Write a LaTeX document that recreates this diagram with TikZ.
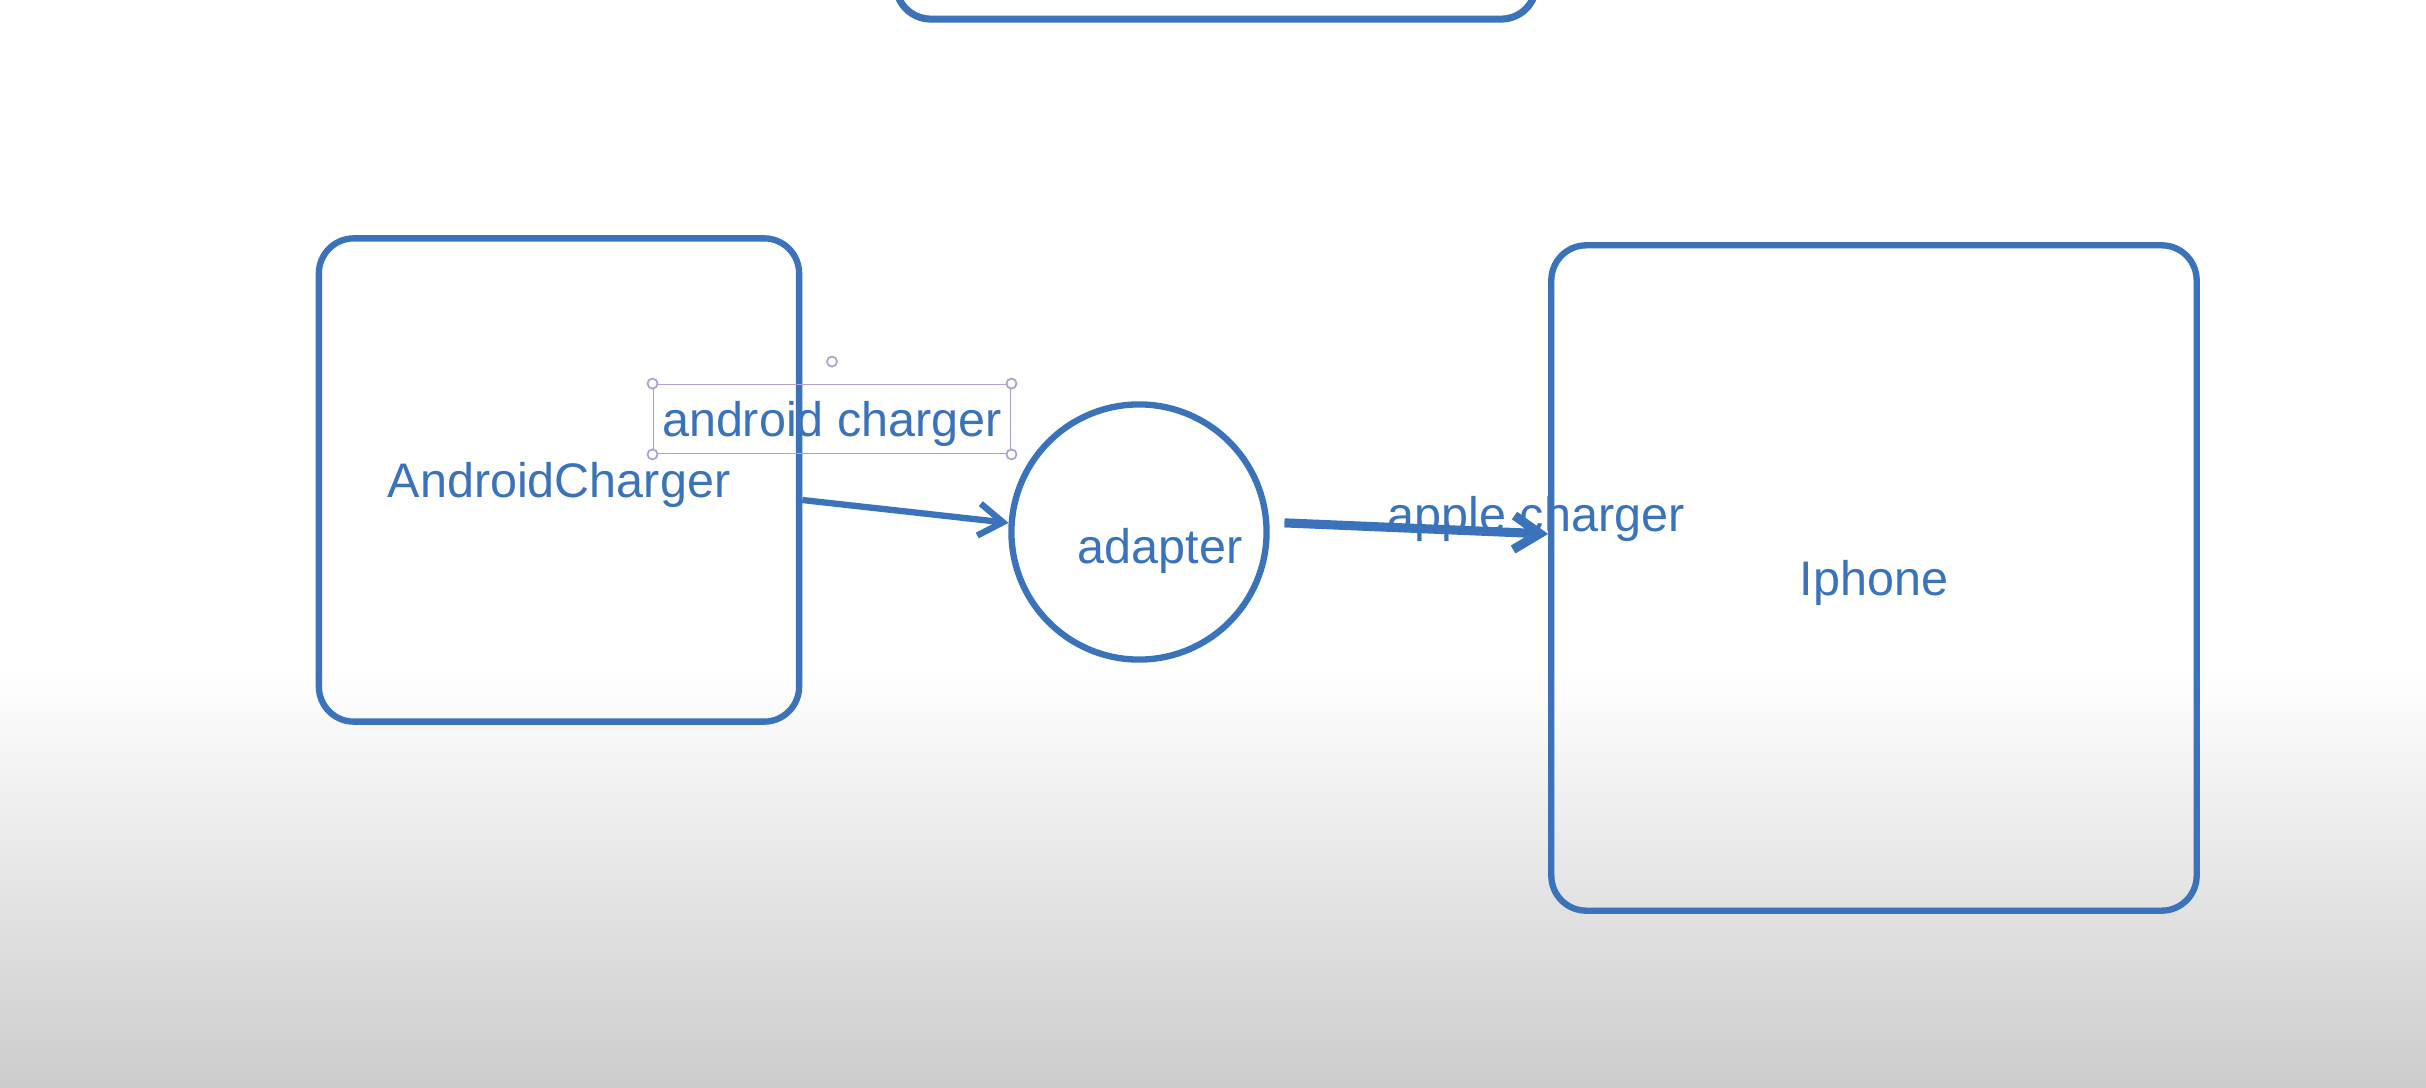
\documentclass[tikz,border=0pt]{standalone}
\usepackage{fontspec}
\setmainfont{Liberation Sans}
\usepackage{xcolor}
\usetikzlibrary{arrows.meta,positioning}
\definecolor{penblue}{RGB}{59,115,186}
\definecolor{selpurple}{RGB}{172,162,208}

\begin{document}
\begin{tikzpicture}[x = 0.01cm, y = -0.01cm]
        \tikzstyle{device} = [rectangle, draw = penblue, line width = 1.8pt, rounded corners = 0.35cm, text = penblue, text height = 0.45cm, text depth = 0.1cm, font = \fontsize{13.8}{16}\selectfont]
        \tikzstyle{hub} = [circle, draw = penblue, line width = 1.8pt, inner sep = 0pt]
        \tikzstyle{caption} = [text = penblue, inner sep = 0pt, text height = 0.45cm, text depth = 0.1cm, font = \fontsize{13.8}{16}\selectfont]
        \tikzstyle{selected} = [caption, draw = selpurple, line width = 0.5pt, minimum width = 3.57cm, minimum height = 0.69cm]
        \tikzstyle{handle} = [draw = selpurple, fill = white, line width = 0.5pt]
        \tikzstyle{wire} = [draw = penblue, line width = 1.8pt]
        \clip (0,0) rectangle (2426,1088);
        \fill [white] (0,0) rectangle (2426,1088);
        \shade [top color = white, bottom color = black!20] (0,670) rectangle (2426,1088);
        \node at (1216,-131) (topbox) [device, line width = 2pt, minimum width = 6.4cm, minimum height = 3cm] {};
        \node at (559,480) (android) [device, minimum width = 4.8cm, minimum height = 4.83cm] {AndroidCharger};
        \node at (1874,578) (iphone) [device, minimum width = 6.45cm, minimum height = 6.65cm] {Iphone};
        \node at (1139,532) (adapter) [hub, minimum size = 2.55cm] {};
        \node at (1160,546) (adaptertext) [caption] {adapter};
        \node at (832,419) (androidlabel) [selected] {android charger};
        \node at (1536,514) (applelabel) [caption] {apple charger};
        \foreach \corner in {north west, north east, south west, south east}
        \draw [handle] (androidlabel.\corner) circle (0.05cm);
        \draw [handle] ([yshift = 0.22cm]androidlabel.north) circle (0.05cm);
        \draw [wire, -{Straight Barb[length = 0.24cm, width = 0.32cm]}] ([yshift = -0.2cm]android.east) -- (adapter.176);
        \draw [wire, line width = 2.6pt, -{Straight Barb[length = 0.26cm, width = 0.34cm]}] ([xshift = 0.15cm]adapter.4) -- ([yshift = 0.44cm]iphone.west);
    \end{tikzpicture}
\end{document}
